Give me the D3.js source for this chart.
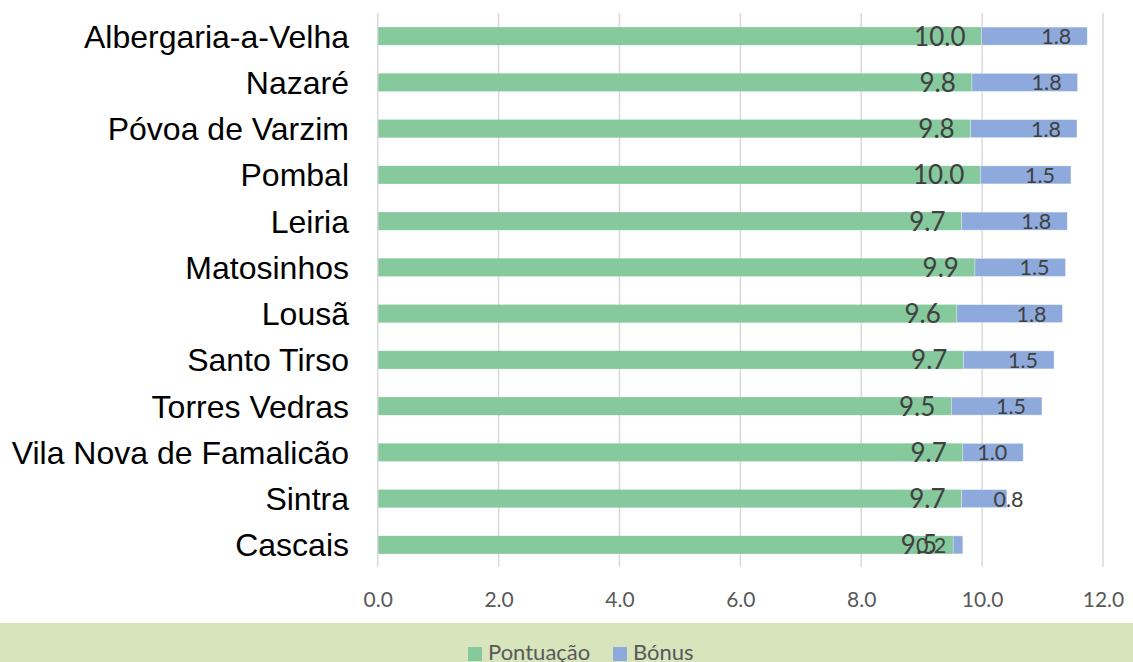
<!DOCTYPE html>
<html><head><meta charset="utf-8">
<script src="https://cdn.jsdelivr.net/npm/d3@7"></script>
<style>
html,body{margin:0;padding:0;background:#fff;}
svg{display:block;}
</style></head>
<body>
<svg id="chart" width="1133" height="662"></svg>
<script>
const categories = ["Albergaria-a-Velha","Nazaré","Póvoa de Varzim","Pombal","Leiria","Matosinhos","Lousã","Santo Tirso","Torres Vedras","Vila Nova de Famalicão","Sintra","Cascais"];
const pontuacao = [9.99, 9.83, 9.81, 9.97, 9.66, 9.88, 9.58, 9.69, 9.49, 9.68, 9.66, 9.52];
const bonus = [1.75, 1.75, 1.76, 1.5, 1.75, 1.5, 1.75, 1.5, 1.5, 1.0, 0.75, 0.16];
const seriesNames = ["Pontuação","Bónus"];
const xTicks = [0,2,4,6,8,10,12];

const W = 1133, H = 662;
const svg = d3.select("#chart");
const mLeft = 377.7, mRight = 1103, mTop = 13, mBottom = 568;
const colors = ["#86c99d","#8eaadc"];

const x = d3.scaleLinear().domain([0,12]).range([mLeft,mRight]);
const y = d3.scaleBand().domain(categories).range([mTop,mBottom]).paddingInner(0.61).paddingOuter(0.305);

// legend background
svg.append("rect").attr("x",0).attr("y",623).attr("width",W).attr("height",H-623).attr("fill","#d8e4bc");

// grid lines
svg.append("g").selectAll("line").data(xTicks).join("line")
  .attr("x1",d=>x(d)).attr("x2",d=>x(d))
  .attr("y1",mTop).attr("y2",567)
  .attr("stroke","#d9d9d9").attr("stroke-width",1.5);

// x axis tick labels
const xAxis = d3.axisBottom(x).tickValues(xTicks).tickFormat(d3.format(".1f")).tickSize(0).tickPadding(0);
const gx = svg.append("g").attr("transform",`translate(0,${mBottom})`).call(xAxis);
gx.select(".domain").remove();
gx.selectAll("text").attr("font-family","Lato, 'Open Sans', sans-serif").attr("font-size",21)
  .attr("fill","#595959").attr("dy",null).attr("y",39);

// category labels
svg.append("g").selectAll("text").data(categories).join("text")
  .attr("x",349).attr("y",d=>y(d)+y.bandwidth()/2)
  .attr("dy","0.36em").attr("text-anchor","end")
  .attr("font-family","'Liberation Sans', Arial, sans-serif").attr("font-size",32)
  .attr("fill","#000").text(d=>d);

const rows = categories.map((c,i)=>({c, p:pontuacao[i], b:bonus[i]}));

// bars
const gb = svg.append("g");
gb.selectAll("rect.p").data(rows).join("rect").attr("class","p")
  .attr("x",x(0)+0.6).attr("y",d=>y(d.c)).attr("height",y.bandwidth())
  .attr("width",d=>x(d.p)-x(0)-0.6).attr("fill",colors[0]);
gb.selectAll("rect.b").data(rows).join("rect").attr("class","b")
  .attr("x",d=>x(d.p)).attr("y",d=>y(d.c)).attr("height",y.bandwidth())
  .attr("width",d=>x(d.p+d.b)-x(d.p)).attr("fill",colors[1])
  .attr("stroke","#ffffff").attr("stroke-opacity",0.45).attr("stroke-width",0.8);

const fmt = v => (Math.round(v*10+1e-9)/10).toFixed(1);

// pontuação labels
svg.append("g").selectAll("text").data(rows).join("text")
  .attr("x",d=>x(d.p)-16).attr("y",d=>y(d.c)+y.bandwidth()/2)
  .attr("dy","0.37em").attr("text-anchor","end")
  .attr("font-family","Lato, sans-serif").attr("font-size",26)
  .attr("fill","#404040").text(d=>fmt(d.p));

// bónus labels
svg.append("g").selectAll("text").data(rows).join("text")
  .each(function(d){
    const w = x(d.p+d.b)-x(d.p);
    const t = d3.select(this);
    if (w >= 55) t.attr("x",x(d.p+d.b)-16).attr("text-anchor","end");
    else if (w >= 20) t.attr("x",x(d.p)+32).attr("text-anchor","start");
    else t.attr("x",x(d.p)-22).attr("text-anchor","middle");
  })
  .attr("y",d=>y(d.c)+y.bandwidth()/2)
  .attr("dy","0.37em")
  .attr("font-family","Lato, sans-serif").attr("font-size",21.5)
  .attr("fill","#404040").text(d=>fmt(d.b));

// legend
const lg = svg.append("g");
const legendItems = [{name:seriesNames[0],color:colors[0],x:468},{name:seriesNames[1],color:colors[1],x:613}];
legendItems.forEach(it=>{
  lg.append("rect").attr("x",it.x).attr("y",647).attr("width",14).attr("height",14).attr("fill",it.color);
  lg.append("text").attr("x",it.x+20).attr("y",660).attr("font-family","Lato, sans-serif")
    .attr("font-size",22).attr("fill","#595959").text(it.name);
});
</script>
</body></html>
